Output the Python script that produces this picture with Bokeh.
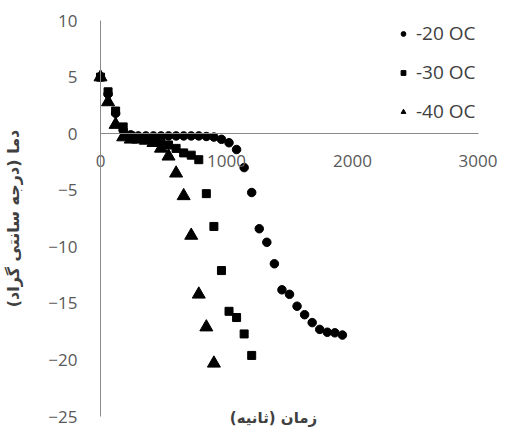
from bokeh.plotting import figure
from bokeh.models import Range1d, FixedTicker, Label, Legend, LegendItem
from bokeh.embed import file_html
from bokeh.resources import INLINE

# -20 OC series (seconds, degrees C)
time_20 = [0, 60, 120, 180, 240, 300, 360, 420, 480, 540, 600, 660, 720, 780, 840,
           900, 960, 1020, 1080, 1140, 1200, 1260, 1320, 1380, 1440, 1500, 1560,
           1620, 1680, 1740, 1800, 1860, 1920]
temp_20 = [5.0, 3.5, 1.8, 0.3, -0.1, -0.2, -0.2, -0.2, -0.2, -0.2, -0.2, -0.2, -0.2,
           -0.2, -0.25, -0.3, -0.5, -0.8, -1.4, -3.0, -5.2, -8.4, -9.6, -11.5, -13.8,
           -14.2, -15.25, -16.0, -16.7, -17.3, -17.55, -17.6, -17.8]

# -30 OC series
time_30 = [0, 60, 120, 180, 240, 300, 360, 420, 480, 540, 600, 660, 720, 780, 840,
           900, 960, 1020, 1080, 1140, 1200]
temp_30 = [5.0, 3.7, 2.0, 0.6, -0.2, -0.4, -0.4, -0.5, -0.6, -1.0, -1.3, -1.7, -1.9,
           -2.3, -5.3, -8.2, -12.1, -15.7, -16.25, -17.7, -19.6]

# -40 OC series
time_40 = [0, 60, 120, 180, 240, 300, 360, 420, 480, 540, 600, 660, 720, 780, 840, 900]
temp_40 = [5.0, 2.8, 0.8, -0.3, -0.5, -0.5, -0.6, -0.8, -1.3, -2.0, -3.5, -5.5, -9.0,
           -14.2, -17.1, -20.3]

series_labels = ["-20 OC", "-30 OC", "-40 OC"]
x_ticks = [0, 1000, 2000, 3000]
y_ticks = [-25, -20, -15, -10, -5, 0, 5, 10]
x_title = "\u200fزمان (ثانیه)\u200f"
y_title = "\u200fدما (درجه سانتی گراد)\u200f"

p = figure(width=497, height=427, output_backend="svg", toolbar_location=None,
           x_range=Range1d(-793.7, 3150.8), y_range=Range1d(-25.97, 11.77),
           min_border_left=0, min_border_right=0, min_border_top=0,
           min_border_bottom=0)
p.outline_line_color = None
p.grid.visible = False
p.background_fill_color = "white"
p.border_fill_color = "white"

axis_color = "#8a8a8a"
tick_color = "#595959"

xa = p.xaxis[0]
xa.fixed_location = 0
xa.bounds = (0, 3000)
xa.ticker = FixedTicker(ticks=x_ticks)
xa.axis_line_color = axis_color
xa.major_tick_line_color = None
xa.minor_tick_line_color = None
xa.major_label_standoff = 15
xa.major_label_text_font = "Open Sans"
xa.major_label_text_font_size = "17px"
xa.major_label_text_color = tick_color

ya = p.yaxis[0]
ya.fixed_location = 0
ya.bounds = (-25, 10)
ya.ticker = FixedTicker(ticks=y_ticks)
ya.axis_line_color = axis_color
ya.major_tick_line_color = None
ya.minor_tick_line_color = None
ya.major_label_standoff = 17
ya.major_label_text_font = "Open Sans"
ya.major_label_text_font_size = "17px"
ya.major_label_text_color = tick_color
ya.axis_label = y_title
ya.axis_label_text_font = "DejaVu Sans"
ya.axis_label_text_font_size = "16px"
ya.axis_label_text_font_style = "bold"
ya.axis_label_text_color = "#404040"
ya.axis_label_standoff = 22

r20 = p.scatter(time_20, temp_20, marker="circle", size=8.5, color="black")
r30 = p.scatter(time_30, temp_30, marker="square", size=8, color="black")
r40 = p.scatter(time_40, temp_40, marker="triangle", size=13, color="black")

legend = Legend(items=[LegendItem(label=series_labels[0], renderers=[r20]),
                       LegendItem(label=series_labels[1], renderers=[r30]),
                       LegendItem(label=series_labels[2], renderers=[r40])],
                location=(397, 303), margin=0, padding=5, spacing=13,
                glyph_width=12, glyph_height=23, label_height=23,
                label_standoff=7, border_line_color=None,
                background_fill_alpha=0,
                label_text_font="Open Sans", label_text_font_size="19px",
                label_text_color="#404040")
p.add_layout(legend)

title_x = Label(x=1373, y=-25.1, text=x_title,
                text_align="center", text_baseline="middle",
                text_font="DejaVu Sans", text_font_size="15px",
                text_font_style="bold", text_color="#404040")
p.add_layout(title_x)

open("out.html", "w").write(file_html(p, INLINE))
